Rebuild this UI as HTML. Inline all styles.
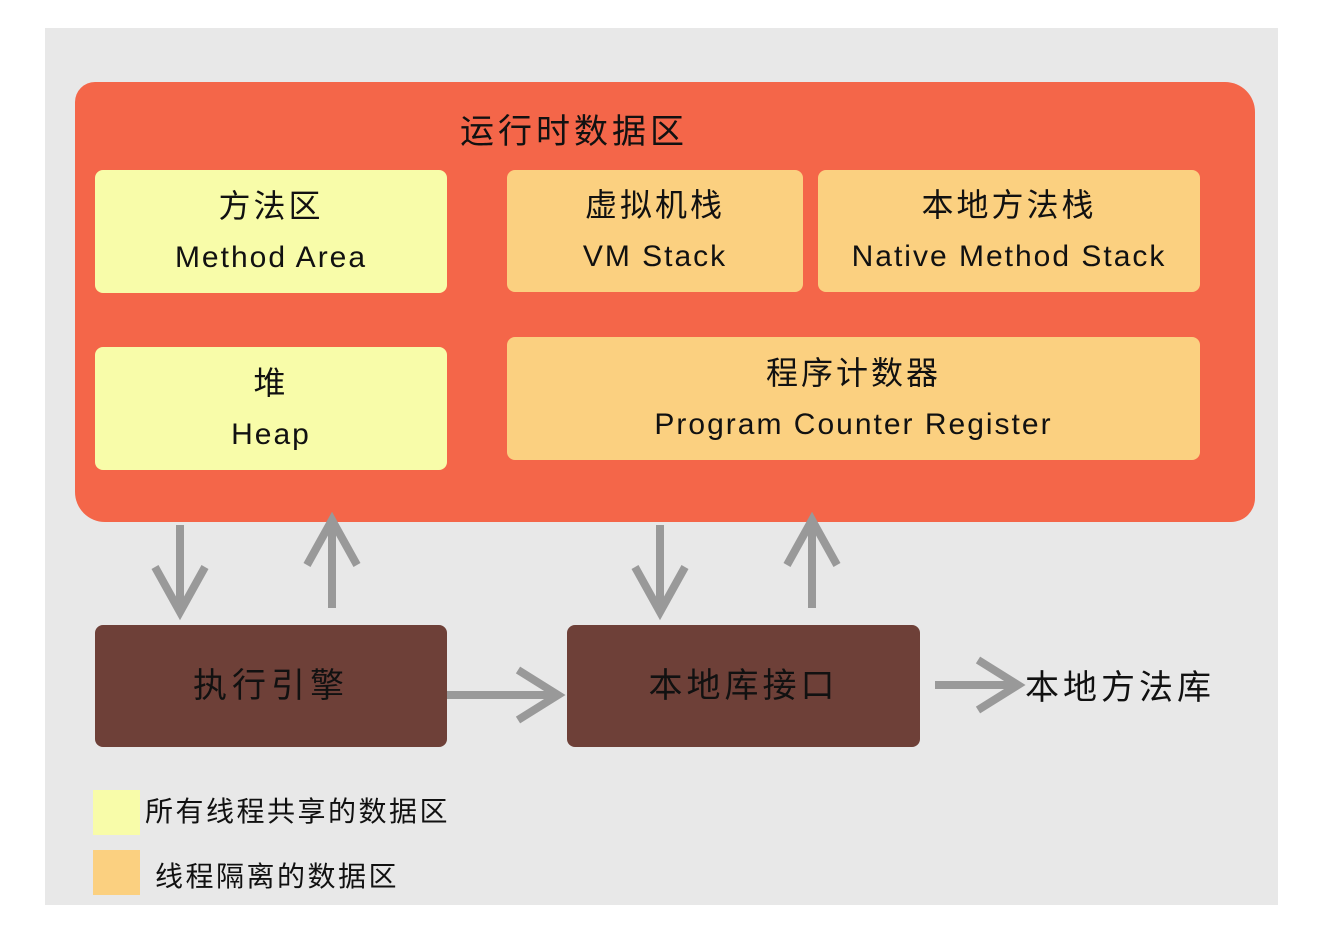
<!DOCTYPE html>
<html><head><meta charset="utf-8"><style>
html,body{margin:0;padding:0;background:#fff;}
body{width:1334px;height:952px;position:relative;overflow:hidden;font-family:"Liberation Sans","Noto Sans CJK SC",sans-serif;color:#111;}
.a{position:absolute;}
.box{position:absolute;border-radius:8px;display:flex;flex-direction:column;align-items:center;justify-content:center;text-align:center;font-size:32px;line-height:52px;letter-spacing:3px;}
.y{background:#f8fca9;}
.o{background:#fbd080;}
.b{background:#6e4038;color:#111;}
.en{font-size:30px;letter-spacing:2px;}
</style></head><body>
<div class="a" style="left:45px;top:28px;width:1233px;height:877px;background:#e8e8e8;"></div>
<div class="a" style="left:75px;top:82px;width:1180px;height:440px;background:#f46649;border-radius:20px 30px 24px 30px;"></div>
<div class="a" style="left:460px;top:104px;font-size:34px;letter-spacing:4px;">运行时数据区</div>
<div class="box y" style="left:95px;top:170px;width:352px;height:123px;"><div>方法区</div><div class="en">Method Area</div></div>
<div class="box o" style="left:507px;top:170px;width:296px;height:122px;"><div>虚拟机栈</div><div class="en">VM Stack</div></div>
<div class="box o" style="left:818px;top:170px;width:382px;height:122px;"><div>本地方法栈</div><div class="en">Native Method Stack</div></div>
<div class="box y" style="left:95px;top:347px;width:352px;height:123px;"><div>堆</div><div class="en">Heap</div></div>
<div class="box o" style="left:507px;top:337px;width:693px;height:123px;"><div>程序计数器</div><div class="en">Program Counter Register</div></div>
<div class="box b" style="left:95px;top:625px;width:352px;height:122px;font-size:34px;letter-spacing:5px;">执行引擎</div>
<div class="box b" style="left:567px;top:625px;width:353px;height:122px;font-size:34px;letter-spacing:4px;">本地库接口</div>
<div class="a" style="left:1025px;top:660px;font-size:34px;letter-spacing:4px;">本地方法库</div>
<svg class="a" style="left:0;top:0" width="1334" height="952">
<g stroke="#999" stroke-width="8" fill="none">
<path d="M180 525V612M155 567L180 612L205 567"/>
<path d="M332 608V520M307 565L332 520L357 565"/>
<path d="M660 525V612M635 567L660 612L685 567"/>
<path d="M812 608V520M787 565L812 520L837 565"/>
<path d="M447 695H558M518 670L558 695L518 720"/>
<path d="M935 685H1018M978 660L1018 685L978 710"/>
</g></svg>
<div class="a" style="left:93px;top:790px;width:47px;height:45px;background:#f8fca9;"></div>
<div class="a" style="left:145px;top:790px;font-size:28px;letter-spacing:2.5px;">所有线程共享的数据区</div>
<div class="a" style="left:93px;top:850px;width:47px;height:45px;background:#fbd080;"></div>
<div class="a" style="left:155px;top:855px;font-size:28px;letter-spacing:2.5px;">线程隔离的数据区</div>
</body></html>
